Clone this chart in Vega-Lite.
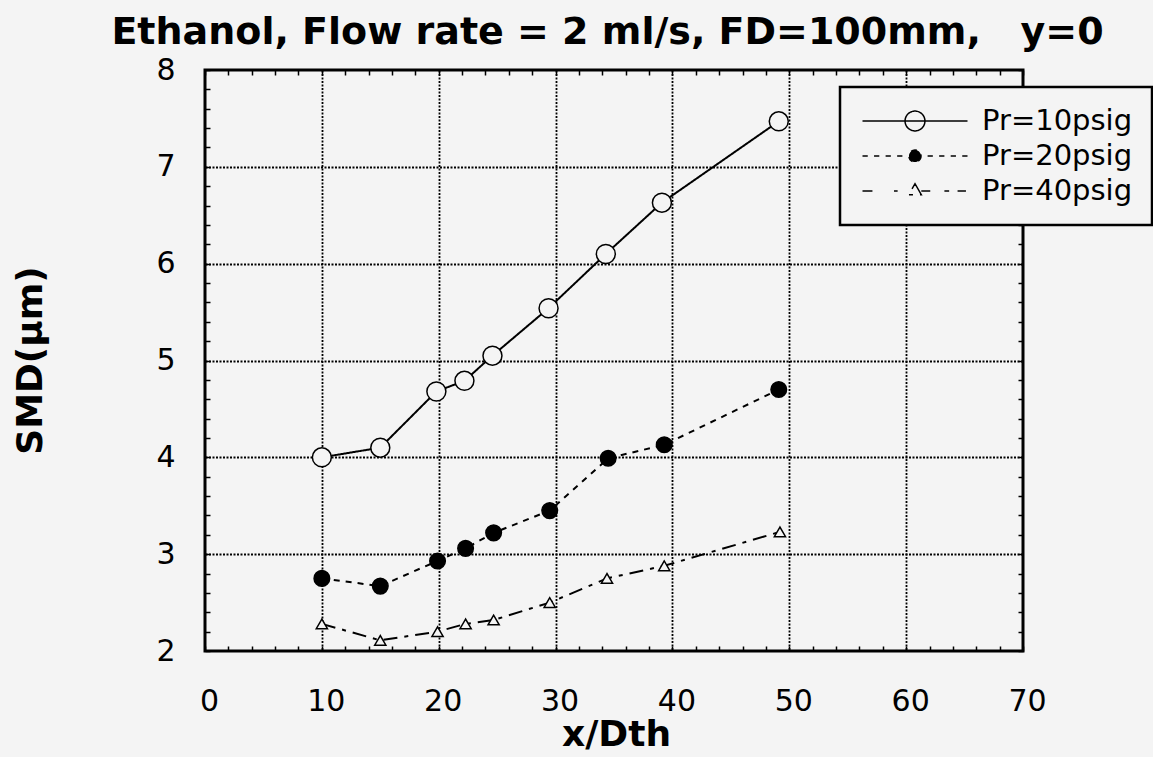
{
  "$schema": "https://vega.github.io/schema/vega-lite/v6.json",
  "autosize": {"type": "none"},
  "padding": {"left": 205, "top": 70, "right": 130, "bottom": 106},
  "width": 818,
  "height": 581,
  "background": "#f4f4f4",
  "config": {
    "view": {"stroke": "black", "strokeWidth": 3},
    "axis": {"domain": false}
  },
  "data": {
    "values": [
      {"x": 10.0, "y": 4.00, "series": "Pr=10psig"},
      {"x": 15.0, "y": 4.10, "series": "Pr=10psig"},
      {"x": 19.8, "y": 4.68, "series": "Pr=10psig"},
      {"x": 22.2, "y": 4.79, "series": "Pr=10psig"},
      {"x": 24.6, "y": 5.05, "series": "Pr=10psig"},
      {"x": 29.4, "y": 5.54, "series": "Pr=10psig"},
      {"x": 34.3, "y": 6.10, "series": "Pr=10psig"},
      {"x": 39.1, "y": 6.63, "series": "Pr=10psig"},
      {"x": 49.1, "y": 7.47, "series": "Pr=10psig"},
      {"x": 10.0, "y": 2.75, "series": "Pr=20psig"},
      {"x": 15.0, "y": 2.67, "series": "Pr=20psig"},
      {"x": 19.9, "y": 2.93, "series": "Pr=20psig"},
      {"x": 22.3, "y": 3.06, "series": "Pr=20psig"},
      {"x": 24.7, "y": 3.22, "series": "Pr=20psig"},
      {"x": 29.5, "y": 3.45, "series": "Pr=20psig"},
      {"x": 34.5, "y": 3.99, "series": "Pr=20psig"},
      {"x": 39.3, "y": 4.13, "series": "Pr=20psig"},
      {"x": 49.1, "y": 4.70, "series": "Pr=20psig"},
      {"x": 10.0, "y": 2.28, "series": "Pr=40psig"},
      {"x": 15.0, "y": 2.11, "series": "Pr=40psig"},
      {"x": 19.9, "y": 2.20, "series": "Pr=40psig"},
      {"x": 22.3, "y": 2.28, "series": "Pr=40psig"},
      {"x": 24.7, "y": 2.32, "series": "Pr=40psig"},
      {"x": 29.5, "y": 2.50, "series": "Pr=40psig"},
      {"x": 34.4, "y": 2.75, "series": "Pr=40psig"},
      {"x": 39.3, "y": 2.88, "series": "Pr=40psig"},
      {"x": 49.2, "y": 3.23, "series": "Pr=40psig"}
    ]
  },
  "layer": [
    {
      "mark": {"type": "line", "stroke": "black", "strokeWidth": 2},
      "encoding": {
        "x": {
          "field": "x", "type": "quantitative",
          "scale": {"domain": [0, 70], "nice": false, "zero": false},
          "axis": {
            "orient": "bottom",
            "values": [0,2,4,6,8,10,12,14,16,18,20,22,24,26,28,30,32,34,36,38,40,42,44,46,48,50,52,54,56,58,60,62,64,66,68,70],
            "labelExpr": "datum.value % 10 === 0 ? format(datum.value, 'd') : ''",
            "labelOverlap": false,
            "labelFlush": false,
            "grid": true,
            "gridColor": "black",
            "gridDash": [2, 1.5],
            "gridWidth": 1.8,
            "gridOpacity": {"condition": {"test": "datum.value % 10 === 0 && datum.value > 0 && datum.value < 70", "value": 1}, "value": 0},
            "tickColor": "black",
            "tickSize": -5,
            "tickWidth": 1.5,
            "labelFont": "DejaVu Sans",
            "labelFontSize": 30,
            "labelColor": "black",
            "labelPadding": 40,
            "labelOffset": 4,
            "title": "x/Dth",
            "titleFont": "DejaVu Sans",
            "titleFontSize": 36,
            "titleFontWeight": "bold",
            "titleColor": "black",
            "titleX": 411,
            "titleY": 94,
            "titleBaseline": "alphabetic"
          }
        },
        "y": {
          "field": "y", "type": "quantitative",
          "scale": {"domain": [2, 8], "nice": false, "zero": false},
          "axis": {
            "orient": "left",
            "values": [2,2.2,2.4,2.6,2.8,3,3.2,3.4,3.6,3.8,4,4.2,4.4,4.6,4.8,5,5.2,5.4,5.6,5.8,6,6.2,6.4,6.6,6.8,7,7.2,7.4,7.6,7.8,8],
            "labelExpr": "abs(datum.value - round(datum.value)) < 0.01 ? format(datum.value, 'd') : ''",
            "labelOverlap": false,
            "labelFlush": false,
            "grid": true,
            "gridColor": "black",
            "gridDash": [2, 1.5],
            "gridWidth": 1.8,
            "gridOpacity": {"condition": {"test": "abs(datum.value - round(datum.value)) < 0.01 && datum.value > 2.5 && datum.value < 7.5", "value": 1}, "value": 0},
            "tickColor": "black",
            "tickSize": -5,
            "tickWidth": 1.5,
            "labelFont": "DejaVu Sans",
            "labelFontSize": 30,
            "labelColor": "black",
            "labelPadding": 35,
            "title": "SMD(μm)",
            "titleFont": "DejaVu Sans",
            "titleFontSize": 36,
            "titleFontWeight": "bold",
            "titleColor": "black",
            "titleAngle": -90,
            "titleX": -175,
            "titleY": 290,
            "titleBaseline": "middle",
            "titleAlign": "center"
          }
        },
        "strokeDash": {
          "field": "series", "type": "nominal",
          "scale": {"domain": ["Pr=10psig", "Pr=20psig", "Pr=40psig"], "range": [[1, 0], [6, 6], [14, 7, 4, 7]]},
          "legend": {
            "orient": "none",
            "legendX": 635,
            "legendY": 17,
            "title": null,
            "fillColor": "#f4f4f4",
            "strokeColor": "black",
            "padding": 19,
            "symbolSize": 784,
            "symbolOffset": 41,
            "symbolStrokeWidth": 1.5,
            "symbolStrokeColor": "black",
            "labelFont": "DejaVu Sans",
            "labelFontSize": 29,
            "labelColor": "black",
            "labelOffset": 52,
            "labelLimit": 400,
            "rowPadding": 5,
            "encoding": {
              "legend": {
                "strokeWidth": {"value": 2.5}
              },
              "symbols": {
                "shape": {"value": {"expr": "datum.value === 'Pr=10psig' ? 'M-3.75,0H3.75M0.71,0A0.71,0.71,0,1,1,-0.71,0A0.71,0.71,0,1,1,0.71,0Z' : datum.value === 'Pr=20psig' ? 'M-3.75,0H-3.375M-2.925,0H-2.55M-2.1,0H-1.725M-1.275,0H-0.9M0.9,0H1.275M1.725,0H2.1M2.55,0H2.925M3.375,0H3.75M0.43,0A0.43,0.43,0,1,1,-0.43,0A0.43,0.43,0,1,1,0.43,0Z' : 'M-3.75,0H-3.04M-1.5,0H-1.24M0.45,0H1.09M2.1,0H2.44M3.04,0H3.64M0,-0.525L0.45,0.26L-0.45,0.26Z'"}},
                "fill": {"value": {"expr": "datum.value === 'Pr=20psig' ? 'black' : 'transparent'"}},
                "stroke": {"value": "black"},
                "strokeDash": {"value": [1, 0]}
              }
            }
          }
        }
      }
    },
    {
      "mark": {"type": "point", "stroke": "black", "strokeWidth": 1.5, "opacity": 1},
      "encoding": {
        "x": {
          "field": "x", "type": "quantitative",
          "axis": {
            "orient": "top",
            "values": [0,2,4,6,8,10,12,14,16,18,20,22,24,26,28,30,32,34,36,38,40,42,44,46,48,50,52,54,56,58,60,62,64,66,68,70],
            "labels": false, "grid": false,
            "tickColor": "black", "tickSize": -5, "tickWidth": 1.5,
            "title": "Ethanol, Flow rate = 2 ml/s, FD=100mm,\u00a0\u00a0 y=0",
            "titleFont": "DejaVu Sans",
            "titleFontSize": 38,
            "titleFontWeight": "bold",
            "titleColor": "black",
            "titleX": 402,
            "titleY": -27,
            "titleBaseline": "alphabetic",
            "titleAlign": "center"
          }
        },
        "y": {
          "field": "y", "type": "quantitative",
          "axis": {
            "orient": "right",
            "values": [2,2.2,2.4,2.6,2.8,3,3.2,3.4,3.6,3.8,4,4.2,4.4,4.6,4.8,5,5.2,5.4,5.6,5.8,6,6.2,6.4,6.6,6.8,7,7.2,7.4,7.6,7.8,8],
            "labels": false, "grid": false, "title": null,
            "tickColor": "black", "tickSize": -5, "tickWidth": 1.5
          }
        },
        "shape": {
          "field": "series", "type": "nominal",
          "scale": {"range": ["circle", "circle", "triangle-up"]},
          "legend": null
        },
        "fill": {
          "field": "series", "type": "nominal",
          "scale": {"range": ["#f4f4f4", "black", "#f4f4f4"]},
          "legend": null
        },
        "size": {
          "field": "series", "type": "nominal",
          "scale": {"range": [360, 125, 220]},
          "legend": null
        }
      }
    }
  ]
}
